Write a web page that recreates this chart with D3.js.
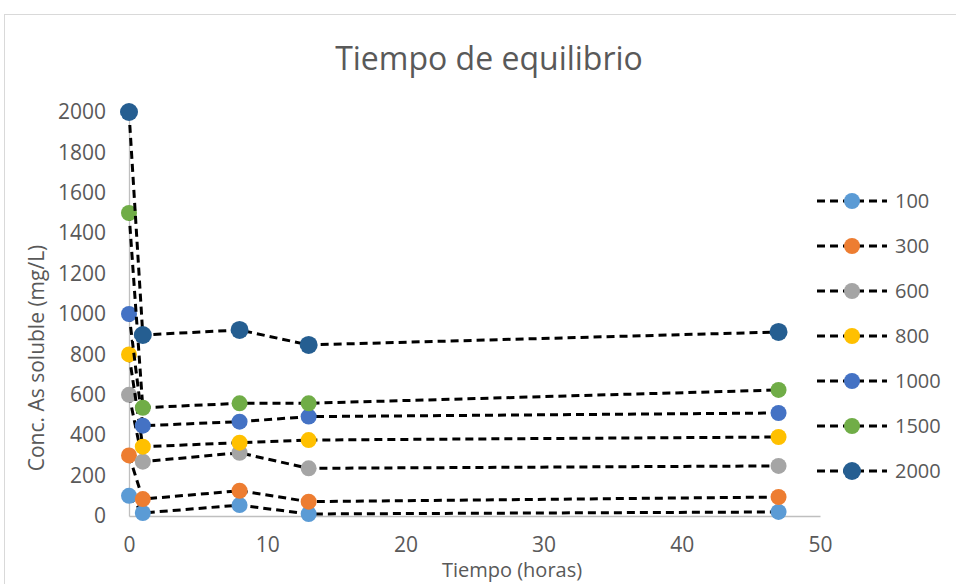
<!DOCTYPE html>
<html>
<head>
<meta charset="utf-8">
<script src="https://cdn.jsdelivr.net/npm/d3@7"></script>
<style>
  html, body { margin: 0; padding: 0; background: #fff; }
  svg { display: block; font-family: "Open Sans", sans-serif; }
</style>
</head>
<body>
<svg id="chart" width="956" height="584"></svg>
<script>
// Sampling times (hours)
const times = [0, 1, 8, 13, 47];

// Initial concentrations (series names)
const seriesNames = ["100", "300", "600", "800", "1000", "1500", "2000"];
const seriesColors = ["#5B9BD5", "#ED7D31", "#A5A5A5", "#FFC000", "#4472C4", "#70AD47", "#255E91"];

// Soluble As concentration (mg/L) at each sampling time
const s100  = [100, 15, 54, 10, 20];
const s300  = [300, 84, 125, 71, 94];
const s600  = [600, 269, 313, 236, 248];
const s800  = [800, 343, 363, 376, 391];
const s1000 = [1000, 447, 467, 492, 510];
const s1500 = [1500, 536, 558, 558, 624];
const s2000 = [2000, 896, 921, 847, 911];

const yTicks = [0, 200, 400, 600, 800, 1000, 1200, 1400, 1600, 1800, 2000];
const xTicks = [0, 10, 20, 30, 40, 50];

const titleText = "Tiempo de equilibrio";
const xTitle = "Tiempo (horas)";
const yTitle = "Conc. As soluble (mg/L)";

const seriesValues = [s100, s300, s600, s800, s1000, s1500, s2000];
const series = seriesNames.map((name, i) => ({
  name, color: seriesColors[i],
  points: times.map((t, j) => ({ t, v: seriesValues[i][j] }))
}));

const svg = d3.select("#chart");
const textColor = "#595959";

// Chart frame
svg.append("rect")
  .attr("x", 4.5).attr("y", 14.5)
  .attr("width", 1000).attr("height", 1000)
  .attr("fill", "#fff").attr("stroke", "#D9D9D9").attr("stroke-width", 1);

const x = d3.scaleLinear().domain([0, 50]).range([129, 820]);
const y = d3.scaleLinear().domain([0, 2000]).range([516, 112]);

// Title
svg.append("text")
  .attr("x", 489).attr("y", 70)
  .attr("text-anchor", "middle")
  .attr("font-size", 32)
  .attr("fill", textColor)
  .text(titleText);

// Y axis
const yAxis = svg.append("g")
  .attr("transform", `translate(${x(0)},0)`)
  .call(d3.axisLeft(y).tickValues(yTicks).tickSize(0).tickPadding(23).tickFormat(d3.format("d")));
yAxis.select(".domain").attr("stroke", "#BFBFBF").attr("stroke-width", 1.3);
yAxis.selectAll("text").attr("font-size", 21).attr("fill", textColor)
  .attr("font-family", "Open Sans, sans-serif");

// X axis
const xAxis = svg.append("g")
  .attr("transform", `translate(0,${y(0)})`)
  .call(d3.axisBottom(x).tickValues(xTicks).tickSize(0).tickPadding(21).tickFormat(d3.format("d")));
xAxis.select(".domain").attr("stroke", "#BFBFBF").attr("stroke-width", 1.5);
xAxis.selectAll("text").attr("font-size", 21).attr("fill", textColor)
  .attr("font-family", "Open Sans, sans-serif");

// Axis titles
svg.append("text")
  .attr("transform", `translate(44,358) rotate(-90)`)
  .attr("text-anchor", "middle")
  .attr("font-size", 21)
  .attr("fill", textColor)
  .text(yTitle);

svg.append("text")
  .attr("x", 512).attr("y", 577)
  .attr("text-anchor", "middle")
  .attr("font-size", 20)
  .attr("fill", textColor)
  .text(xTitle);

// Series: dashed lines with circular markers
const line = d3.line().x(d => x(d.t)).y(d => y(d.v));

function drawMarker(g, cx, cy, s) {
  const r = s.name === "2000" ? 9 : 8;
  g.append("circle").attr("cx", cx).attr("cy", cy).attr("r", r).attr("fill", s.color);
  if (s.name === "2000") {
    // notched marker edge
    [-0.35, 0.35].forEach(dx => {
      g.append("circle").attr("cx", cx + dx * r * 2.2).attr("cy", cy - r * 1.0)
        .attr("r", 1.6).attr("fill", "#fff");
    });
    g.append("circle").attr("cx", cx - r * 0.95).attr("cy", cy + r * 0.55)
      .attr("r", 1.4).attr("fill", "#fff");
  }
}

const plot = svg.append("g");
series.forEach(s => {
  const g = plot.append("g");
  g.append("path")
    .attr("d", line(s.points))
    .attr("fill", "none")
    .attr("stroke", "#000")
    .attr("stroke-width", 3)
    .attr("stroke-dasharray", "8,5");
  s.points.forEach(p => drawMarker(g, x(p.t), y(p.v), s));
});

// Legend
const legend = svg.append("g");
series.forEach((s, i) => {
  const ly = 201 + i * 45;
  const g = legend.append("g");
  g.append("line")
    .attr("x1", 817).attr("x2", 887).attr("y1", ly).attr("y2", ly)
    .attr("stroke", "#000").attr("stroke-width", 3).attr("stroke-dasharray", "8,5");
  drawMarker(g, 852, ly, s);
  g.append("text")
    .attr("x", 895).attr("y", ly)
    .attr("dy", "0.35em")
    .attr("font-size", 20)
    .attr("fill", textColor)
    .text(s.name);
});
</script>
</body>
</html>
